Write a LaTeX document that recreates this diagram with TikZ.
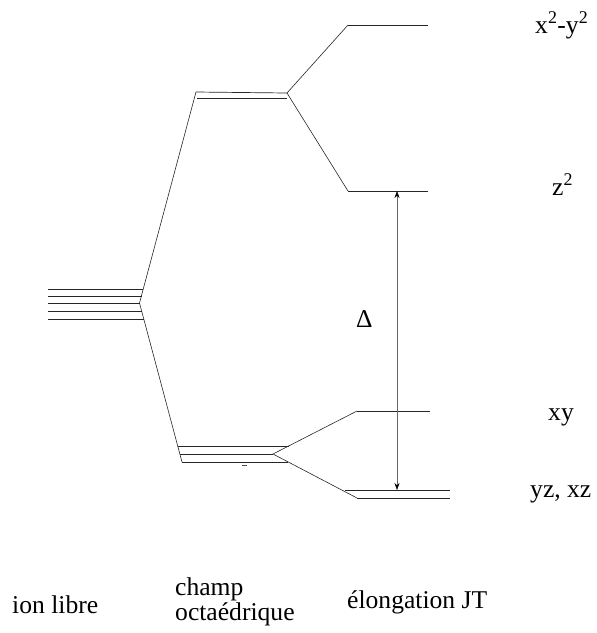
\documentclass[tikz,border=0pt]{standalone}
\usepackage{fontspec}
\setmainfont{Liberation Serif}
\usetikzlibrary{arrows.meta}
\begin{document}
\begin{tikzpicture}[x=1pt,y=-1pt,
  lvl/.style={line width=0.7pt,black!85},
  conn/.style={line width=0.6pt,black!85},
  lab/.style={anchor=base west,inner sep=0pt,font=\fontsize{25.6}{30}\selectfont},
  gap/.style={{Stealth[length=7pt,width=5pt,color=black]}-{Stealth[length=7pt,width=5pt,color=black]},line width=0.5pt,black!60}]
\useasboundingbox (0,0) rectangle (597,633);
% free ion
\coordinate (fv) at (139.5,303);
\foreach \y/\x [count=\i] in {289/143,296/141.5,303/139.5,311/141.5,319/143.5}{
  \coordinate (fl\i) at (48,\y);
  \coordinate (fr\i) at (\x,\y);
  \draw[lvl] (fl\i) -- (fr\i);
}
% octahedral eg
\coordinate (ega) at (196,92);
\coordinate (egb) at (197,98);
\coordinate (egv) at (287,93);
\coordinate (egbr) at (287,98);
\draw[lvl] (ega) -- (egv);
\draw[lvl] (egb) -- (egbr);
% octahedral t2g
\coordinate (tga) at (178,446);
\coordinate (tgb) at (180,454);
\coordinate (tgc) at (182,462);
\coordinate (tgv) at (273,454);
\coordinate (tgar) at (289,446);
\coordinate (tgcr) at (288,462);
\draw[lvl] (tga) -- (tgar);
\draw[lvl] (tgb) -- (tgv);
\draw[lvl] (tgc) -- (tgcr);
\coordinate (dashA) at (242,465);
\coordinate (dashB) at (247,465);
\draw[line width=0.6pt,black!70] (dashA) -- (dashB);
% Jahn-Teller levels
\coordinate (x2l) at (348,25);  \coordinate (x2r) at (428,25);
\coordinate (z2l) at (348,191); \coordinate (z2r) at (428,191);
\coordinate (xyl) at (357,411); \coordinate (xyr) at (430,411);
\coordinate (yzl) at (345,490); \coordinate (yzr) at (450,490);
\coordinate (xzl) at (357,498); \coordinate (xzr) at (450,498);
\draw[lvl] (x2l) -- (x2r);
\draw[lvl] (z2l) -- (z2r);
\draw[lvl] (xyl) -- (xyr);
\draw[lvl] (yzl) -- (yzr);
\draw[lvl] (xzl) -- (xzr);
% connectors
\draw[conn] (ega) -- (fv) -- (tgc);
\draw[conn] (x2l) -- (egv) -- (z2l);
\draw[conn] (xyl) -- (tgv) -- (xzl);
% gap arrow
\coordinate (ga) at (397,191);
\coordinate (gb) at (397,490);
\draw[gap] (ga) -- (gb);
% labels
\node[lab] (lx2) at (535,33) {x\textsuperscript{2}-y\textsuperscript{2}};
\node[lab] (lz2) at (552,195) {z\textsuperscript{2}};
\node[lab] (lxy) at (548,420) {xy};
\node[lab] (lyz) at (530,497) {yz, xz};
\node[lab] (ldelta) at (356,327) {Δ};
\node[lab] (lion) at (12,613) {ion libre};
\node[lab] (lch1) at (175,595) {champ};
\node[lab] (lch2) at (175,620) {octaédrique};
\node[lab] (lelo) at (347,608) {élongation JT};
\end{tikzpicture}
\end{document}
